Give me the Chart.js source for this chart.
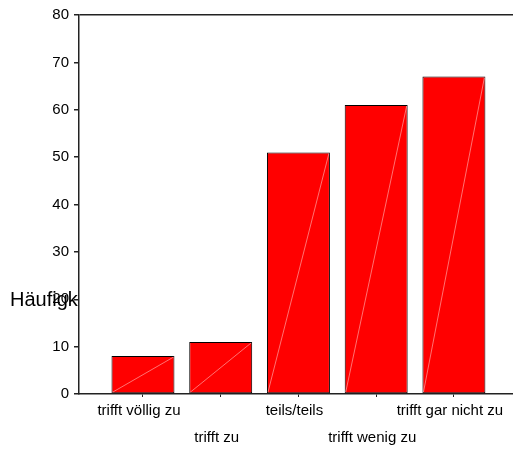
<!DOCTYPE html>
<html>
<head>
<meta charset="utf-8">
<script src="https://cdn.jsdelivr.net/npm/chart.js@4/dist/chart.umd.min.js"></script>
<style>
  html, body { margin: 0; padding: 0; background: #fff; }
  #wrap { width: 513px; height: 450px; }
</style>
</head>
<body>
<div id="wrap"><canvas id="chart"></canvas></div>
<script>
// --- Data ---
const categories = ['trifft völlig zu', 'trifft zu', 'teils/teils', 'trifft wenig zu', 'trifft gar nicht zu'];
const frequencies = [8, 11, 51, 61, 67];
const yAxisTitle = 'Häufigkeit';

const FONT = "'Liberation Sans', Arial, sans-serif";
const AXIS_COLOR = '#222';

// y title is drawn behind the plot area, so it gets cut at the axis like the original
const yTitlePlugin = {
    id: 'yTitle',
    beforeDraw(chart) {
        const c = chart.ctx, a = chart.chartArea;
        c.save();
        c.font = '20px ' + FONT;
        c.fillStyle = '#000';
        c.textBaseline = 'alphabetic';
        c.fillText(yAxisTitle, 10, chart.scales.y.getPixelForValue(20) + 7);
        c.fillStyle = '#fff';
        c.fillRect(a.left, 0, chart.width - a.left, a.bottom);
        c.restore();
    }
};

// faint diagonal streak seen inside each bar
const streakPlugin = {
    id: 'streak',
    afterDatasetsDraw(chart) {
        const c = chart.ctx;
        c.save();
        c.strokeStyle = 'rgba(255,190,190,0.75)';
        c.lineWidth = 0.8;
        chart.getDatasetMeta(0).data.forEach(bar => {
            const p = bar.getProps(['x', 'y', 'base', 'width'], true);
            c.beginPath();
            c.moveTo(p.x - p.width / 2 + 1, p.base - 1);
            c.lineTo(p.x + p.width / 2 - 1, p.y + 1);
            c.stroke();
        });
        c.restore();
    }
};

new Chart(document.getElementById('chart'), {
    type: 'bar',
    data: {
        datasets: [{
            data: frequencies.map((v, i) => ({ x: i + 1, y: v })),
            backgroundColor: '#FF0000',
            borderColor: '#000',
            borderWidth: 1,
            borderSkipped: false,
            barPercentage: 0.81,
            categoryPercentage: 1
        }]
    },
    options: {
        responsive: true, maintainAspectRatio: false,
        animation: false,
        layout: { padding: { top: 15, right: 0, left: 0, bottom: 0 } },
        plugins: { legend: { display: false }, tooltip: { enabled: false }, title: { display: false } },
        scales: {
            x: {
                type: 'linear',
                offset: false,
                min: 0.177, max: 5.76,
                afterBuildTicks: axis => { axis.ticks = categories.map((_, i) => ({ value: i + 1 })); },
                afterFit: s => { s.height = 56; },
                ticks: {
                    autoSkip: false, maxRotation: 0, padding: 1, labelOffset: -4,
                    color: '#000',
                    font: { family: FONT, size: 15, lineHeight: '26.5px' },
                    callback: v => (v - 1) % 2 ? ['', categories[v - 1]] : categories[v - 1]
                },
                grid: { offset: false, drawOnChartArea: false, tickLength: 3, tickColor: AXIS_COLOR },
                border: { color: AXIS_COLOR, width: 1.5 }
            },
            y: {
                min: 0, max: 80,
                afterFit: s => { s.width = 79; },
                ticks: { stepSize: 10, padding: 5, color: '#000', font: { family: FONT, size: 15 } },
                grid: {
                    tickLength: 5, tickColor: AXIS_COLOR, lineWidth: 1.5,
                    color: ctx => ctx.tick && ctx.tick.value === 80 ? AXIS_COLOR : 'rgba(0,0,0,0)'
                },
                border: { color: AXIS_COLOR, width: 1.5 }
            }
        }
    },
    plugins: [yTitlePlugin, streakPlugin]
});
</script>
</body>
</html>
